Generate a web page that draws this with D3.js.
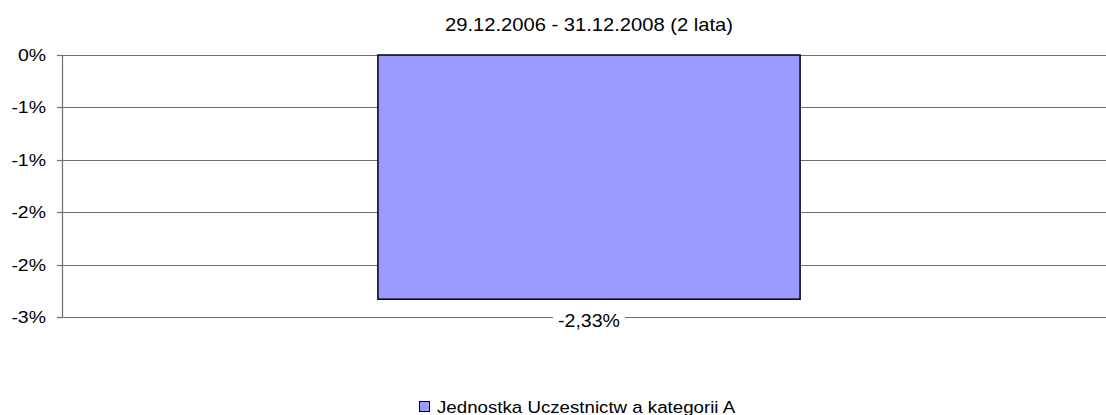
<!DOCTYPE html>
<html>
<head>
<meta charset="utf-8">
<script src="https://cdn.jsdelivr.net/npm/d3@7"></script>
<style>
  html, body { margin: 0; padding: 0; background: #fff; }
  svg { display: block; font-family: Arial, "Liberation Sans", sans-serif; }
</style>
</head>
<body>
<div id="chart"></div>
<script>
// ----------------------------------------------
// Data
// ----------------------------------------------
const title = '29.12.2006 - 31.12.2008 (2 lata)';
const categories = ['Jednostka Uczestnictw a kategorii A'];
const values = [-0.0233];
const valueLabels = ['-2,33%'];
const tickValues = [0, -0.005, -0.01, -0.015, -0.02, -0.025];
const tickLabels = ['0%', '-1%', '-1%', '-2%', '-2%', '-3%'];

const barColor = '#9999ff';
const lineColor = '#6e6e6e';

// ----------------------------------------------
// Layout
// ----------------------------------------------
const width = 1106;
const height = 415;
const margin = { top: 55, bottom: 98, left: 62 };
const plotRight = 1116; // plot area runs a little past the picture edge

const svg = d3.select('#chart').append('svg')
  .attr('width', width)
  .attr('height', height);

// text drawn slightly wider than the font, like the original export
function stretchedText(parent, tx, ty, str, size, sx, anchor) {
  const g = parent.append('g')
    .attr('transform', `translate(${tx},${ty}) scale(${sx},1)`);
  return g.append('text')
    .attr('text-anchor', anchor || 'middle')
    .attr('font-size', size)
    .attr('fill', '#000')
    .text(str);
}

const x = d3.scaleBand()
  .domain(categories)
  .range([margin.left, plotRight])
  .padding(0.428);

const y = d3.scaleLinear()
  .domain([0, -0.025])
  .range([margin.top, height - margin.bottom]);

const py = d => Math.round(y(d)) + 0.5;

// gridlines
svg.append('g')
  .selectAll('line')
  .data(tickValues)
  .join('line')
  .attr('x1', margin.left)
  .attr('x2', width)
  .attr('y1', py)
  .attr('y2', py)
  .attr('stroke', lineColor)
  .attr('stroke-width', 1.2);

// y axis
const gy = svg.append('g');
gy.append('line')
  .attr('x1', margin.left + 0.5)
  .attr('x2', margin.left + 0.5)
  .attr('y1', py(0))
  .attr('y2', py(tickValues[tickValues.length - 1]))
  .attr('stroke', lineColor)
  .attr('stroke-width', 1.2);

gy.selectAll('line.tick')
  .data(tickValues)
  .join('line')
  .attr('class', 'tick')
  .attr('x1', margin.left - 5)
  .attr('x2', margin.left)
  .attr('y1', py)
  .attr('y2', py)
  .attr('stroke', lineColor)
  .attr('stroke-width', 1.2);

tickValues.forEach((v, i) => {
  stretchedText(gy, 46, y(v) + 6, tickLabels[i], 16.5, 1.18, 'end');
});

// bars
svg.append('g')
  .selectAll('rect')
  .data(values)
  .join('rect')
  .attr('x', (d, i) => x(categories[i]))
  .attr('width', x.bandwidth())
  .attr('y', d => y(Math.max(0, d)))
  .attr('height', d => Math.abs(y(d) - y(0)))
  .attr('fill', barColor)
  .attr('stroke', '#000')
  .attr('stroke-width', 1.5);

// data labels with white box over the bottom line
values.forEach((v, i) => {
  const cx = x(categories[i]) + x.bandwidth() / 2;
  const g = svg.append('g');
  const t = stretchedText(g, cx, y(v) + 28, valueLabels[i], 17.5, 1.12);
  const bb = t.node().getBBox();
  const w = bb.width * 1.12 + 10;
  g.insert('rect', 'g')
    .attr('x', cx - w / 2)
    .attr('y', y(v) + 28 + bb.y)
    .attr('width', w)
    .attr('height', bb.height)
    .attr('fill', '#fff');
});

// title
stretchedText(svg, 589, 31, title, 18, 1.12);

// legend
const legend = svg.append('g')
  .attr('transform', 'translate(419,401)');
legend.append('rect')
  .attr('x', 0.5)
  .attr('y', 0.5)
  .attr('width', 10)
  .attr('height', 10)
  .attr('fill', barColor)
  .attr('stroke', '#000')
  .attr('stroke-width', 1);
stretchedText(legend, 18, 11.5, categories[0], 17, 1.1, 'start');
</script>
</body>
</html>
